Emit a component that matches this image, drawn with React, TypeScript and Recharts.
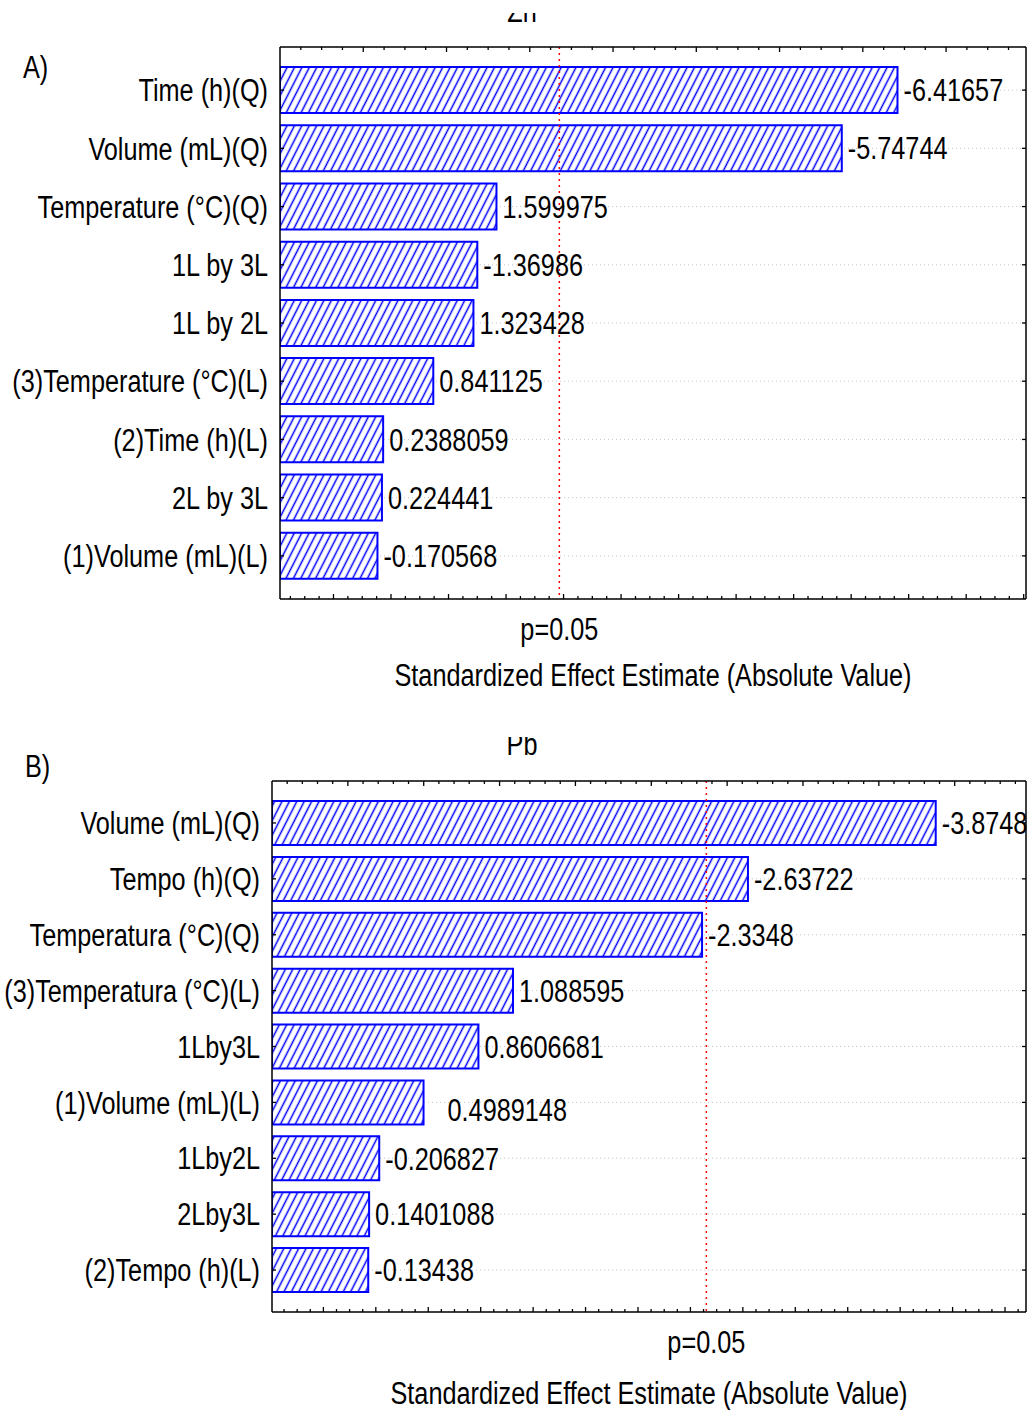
import {
  Bar,
  BarChart,
  CartesianGrid,
  LabelList,
  ReferenceLine,
  XAxis,
  YAxis,
} from "recharts";

const FONT = "'Liberation Sans', Arial, sans-serif";
const FONT_SIZE = 31;
const SQUEEZE = 0.815; // the source figure uses a condensed face
const BLUE = "#0000ff";

// A) Zn
const ZN_FACTORS = [
  "Time (h)(Q)",
  "Volume (mL)(Q)",
  "Temperature (°C)(Q)",
  "1L by 3L",
  "1L by 2L",
  "(3)Temperature (°C)(L)",
  "(2)Time (h)(L)",
  "2L by 3L",
  "(1)Volume (mL)(L)",
];
const ZN_EFFECTS = [
  -6.41657, -5.74744, 1.599975, -1.36986, 1.323428, 0.841125, 0.2388059,
  0.224441, -0.170568,
];

// B) Pb
const PB_FACTORS = [
  "Volume (mL)(Q)",
  "Tempo (h)(Q)",
  "Temperatura (°C)(Q)",
  "(3)Temperatura (°C)(L)",
  "1Lby3L",
  "(1)Volume (mL)(L)",
  "1Lby2L",
  "2Lby3L",
  "(2)Tempo (h)(L)",
];
const PB_EFFECTS = [
  -3.87489, -2.63722, -2.3348, 1.088595, 0.8606681, 0.4989148, -0.206827,
  0.1401088, -0.13438,
];

const P_LABEL = "p=0.05";
const AXIS_TITLE = "Standardized Effect Estimate (Absolute Value)";

// tick helper (axis only, not data)
const steps = (from: number, to: number, step: number) => {
  const out: number[] = [];
  for (let v = from; v <= to + 1e-9; v += step) out.push(Math.round(v * 1000) / 1000);
  return out;
};

const Narrow = ({
  x,
  y,
  anchor = "start",
  dy,
  children,
}: {
  x: number;
  y: number;
  anchor?: "start" | "middle" | "end";
  dy?: string;
  children: any;
}) => (
  <text
    transform={`translate(${x} ${y}) scale(${SQUEEZE} 1)`}
    textAnchor={anchor}
    dy={dy}
    fill="#000"
    fontSize={FONT_SIZE}
    fontFamily={FONT}
  >
    {children}
  </text>
);

type PanelProps = {
  id: string;
  letter: string;
  letterX: number;
  letterY: number;
  title: string;
  titleY: number;
  axisTitleOffset: number;
  factors: string[];
  effects: number[];
  pCrit: number;
  domain: [number, number];
  topTicks: number[];
  topMajor: number[];
  bottomDomain: [number, number];
  bottomTicks: number[];
  bottomMajor: number[];
  top: number;
  height: number;
  axisWidth: number;
  marginTop: number;
  marginBottom: number;
  barSize: number;
  nudge?: Record<number, [number, number]>;
};

const ParetoPanel = (p: PanelProps) => {
  // bars run from the left edge of the axis to |effect|
  const data = p.factors.map((name, i) => ({
    name,
    range: [p.domain[0], Math.abs(p.effects[i])],
    label: String(p.effects[i]),
  }));
  const frame = { stroke: "#000", strokeWidth: 1.5 };
  const pad = { top: 14, bottom: 14 };
  const topMajor = new Set(p.topMajor);
  const bottomMajor = new Set(p.bottomMajor);

  return (
    <div
      style={{
        position: "absolute",
        left: 0,
        top: p.top,
        width: 1027,
        height: p.height,
        overflow: "hidden",
      }}
    >
      <BarChart
        width={1060}
        height={p.height}
        data={data}
        layout="vertical"
        margin={{ top: p.marginTop, right: 33, bottom: p.marginBottom, left: 0 }}
      >
        <defs>
          <pattern
            id={`hatch-${p.id}`}
            patternUnits="userSpaceOnUse"
            width={6.6}
            height={6.6}
            patternTransform="rotate(27)"
          >
            <rect width={6.6} height={6.6} fill="#fff" />
            <line x1={3.3} y1={0} x2={3.3} y2={6.6} stroke={BLUE} strokeWidth={1.5} />
          </pattern>
        </defs>
        <Narrow x={p.letterX} y={p.letterY}>
          {p.letter}
        </Narrow>
        <Narrow x={522} y={p.titleY} anchor="middle">
          {p.title}
        </Narrow>
        <CartesianGrid
          xAxisId="top"
          yAxisId="cat"
          vertical={false}
          stroke="#c8c8c8"
          strokeDasharray="1 3"
        />
        <XAxis
          xAxisId="top"
          orientation="top"
          type="number"
          domain={p.domain}
          ticks={p.topTicks}
          interval={0}
          allowDataOverflow
          height={1}
          tickSize={0}
          tickMargin={0}
          tickLine={false}
          axisLine={frame}
          tick={(t: any) => (
            <line
              x1={t.x}
              x2={t.x}
              y1={t.y}
              y2={t.y + (topMajor.has(t.payload.value) ? 5 : 3)}
              stroke="#000"
              strokeWidth={1.3}
            />
          )}
        />
        <XAxis
          xAxisId="bottom"
          orientation="bottom"
          type="number"
          domain={p.bottomDomain}
          ticks={p.bottomTicks}
          interval={0}
          allowDataOverflow
          height={1}
          tickSize={0}
          tickMargin={0}
          tickLine={false}
          axisLine={frame}
          tick={(t: any) => (
            <line
              x1={t.x}
              x2={t.x}
              y1={t.y}
              y2={t.y - (bottomMajor.has(t.payload.value) ? 5 : 3)}
              stroke="#000"
              strokeWidth={1.3}
            />
          )}
          label={{
            value: AXIS_TITLE,
            content: (lp: any) => {
              const vb = lp.viewBox;
              return (
                <Narrow
                  x={vb.x + vb.width / 2}
                  y={vb.y + p.axisTitleOffset}
                  anchor="middle"
                >
                  {AXIS_TITLE}
                </Narrow>
              );
            },
          }}
        />
        <YAxis
          yAxisId="cat"
          type="category"
          dataKey="name"
          width={p.axisWidth}
          tickLine={false}
          tickSize={0}
          tickMargin={12}
          axisLine={frame}
          padding={pad}
          interval={0}
          tick={(t: any) => (
            <g>
              <Narrow x={t.x} y={t.y} anchor="end" dy="0.36em">
                {t.payload.value}
              </Narrow>
              <line x1={t.x + 12} x2={t.x + 16} y1={t.y} y2={t.y} stroke="#000" strokeWidth={1.3} />
            </g>
          )}
        />
        <YAxis
          yAxisId="right"
          orientation="right"
          type="category"
          dataKey="name"
          width={1}
          tickLine={false}
          tickSize={0}
          tickMargin={0}
          axisLine={frame}
          padding={pad}
          interval={0}
          tick={(t: any) => (
            <line x1={t.x} x2={t.x - 4} y1={t.y} y2={t.y} stroke="#000" strokeWidth={1.3} />
          )}
        />
        <Bar
          xAxisId="top"
          yAxisId="cat"
          dataKey="range"
          barSize={p.barSize}
          fill={`url(#hatch-${p.id})`}
          stroke={BLUE}
          strokeWidth={2}
          isAnimationActive={false}
        >
          <LabelList
            dataKey="label"
            content={(lp: any) => {
              const [dx, dy] = p.nudge?.[lp.index] ?? [0, 0];
              return (
                <Narrow
                  x={Number(lp.x) + Number(lp.width) + 6 + dx}
                  y={Number(lp.y) + Number(lp.height) / 2 + dy}
                  dy="0.36em"
                >
                  {lp.value}
                </Narrow>
              );
            }}
          />
        </Bar>
        <ReferenceLine
          xAxisId="top"
          yAxisId="cat"
          x={p.pCrit}
          stroke="#ff0000"
          strokeWidth={1.5}
          strokeDasharray="2 4"
          label={{
            value: P_LABEL,
            content: (lp: any) => {
              const vb = lp.viewBox;
              return (
                <Narrow x={vb.x + vb.width / 2} y={vb.y + vb.height + 41} anchor="middle">
                  {P_LABEL}
                </Narrow>
              );
            },
          }}
        />
      </BarChart>
    </div>
  );
};

const App = () => (
  <div
    style={{
      position: "absolute",
      left: 0,
      top: 0,
      width: 1027,
      height: 1410,
      overflow: "hidden",
      background: "#fff",
    }}
  >
    <ParetoPanel
      id="zn"
      letter="A)"
      letterX={23}
      letterY={65}
      title="Zn"
      titleY={9}
      axisTitleOffset={87}
      factors={ZN_FACTORS}
      effects={ZN_EFFECTS}
      pCrit={2.355}
      domain={[-1, 7.96]}
      topTicks={steps(-0.75, 7.75, 0.25)}
      topMajor={steps(0, 7, 1)}
      bottomDomain={[-0.93, 12.04]}
      bottomTicks={steps(-0.75, 12, 0.25)}
      bottomMajor={steps(0, 12, 1)}
      top={13}
      height={690}
      axisWidth={280}
      marginTop={33}
      marginBottom={103}
      barSize={46}
    />
    <ParetoPanel
      id="pb"
      letter="B)"
      letterX={25}
      letterY={40}
      title="Pb"
      titleY={18}
      axisTitleOffset={92}
      factors={PB_FACTORS}
      effects={PB_EFFECTS}
      pCrit={2.363}
      domain={[-0.5, 4.47]}
      topTicks={steps(-0.4, 4.4, 0.1)}
      topMajor={steps(0, 4, 0.5)}
      bottomDomain={[-0.98, 13.4]}
      bottomTicks={steps(-0.75, 13.25, 0.25)}
      bottomMajor={steps(0, 13, 1)}
      top={737}
      height={673}
      axisWidth={272}
      marginTop={43}
      marginBottom={97}
      barSize={44}
      nudge={{ 5: [18, 7] }}
    />
  </div>
);

export default App;
